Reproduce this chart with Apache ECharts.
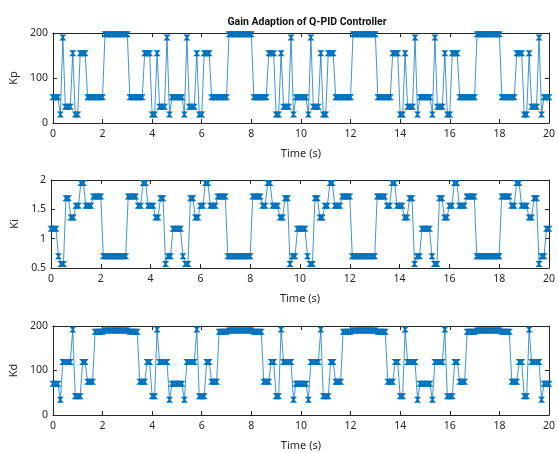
<!DOCTYPE html>
<html><head><meta charset="utf-8">
<script src="https://cdn.jsdelivr.net/npm/echarts@6/dist/echarts.min.js"></script>
<style>html,body{margin:0;padding:0;background:#fff}#c{width:558px;height:453px}</style>
</head><body><div id="c"></div>
<script>
// sample period of the recorded gains (s)
const dt = 0.1;
const xTicks = [0, 2, 4, 6, 8, 10, 12, 14, 16, 18, 20];
const kpTicks = [0, 100, 200];
const kiTicks = [0.5, 1, 1.5, 2];
const kdTicks = [0, 100, 200];

const kpValues = [
 57,57,57,19,190,36,36,36,155,19,19,155,155,155,57,57,57,57,57,57,57,197,197,197,197,197,197,197,197,197,197,57,57,57,57,57,57,155,155,155,19,19,155,36,36,36,190,19,57,57,
 57,57,57,19,190,36,36,36,155,19,19,155,155,155,57,57,57,57,57,57,57,197,197,197,197,197,197,197,197,197,197,57,57,57,57,57,57,155,155,155,19,19,155,36,36,36,190,19,57,57,
 57,57,57,19,190,36,36,36,155,19,19,155,155,155,57,57,57,57,57,57,57,197,197,197,197,197,197,197,197,197,197,57,57,57,57,57,57,155,155,155,19,19,155,36,36,36,190,19,57,57,
 57,57,57,19,190,36,36,36,155,19,19,155,155,155,57,57,57,57,57,57,57,197,197,197,197,197,197,197,197,197,197,57,57,57,57,57,57,155,155,155,19,19,155,36,36,36,190,19,57,57,
 57
];
const kiValues = [
 1.17,1.17,1.17,0.70,0.57,0.57,1.69,1.69,1.36,1.36,1.56,1.56,1.95,1.95,1.56,1.56,1.56,1.72,1.72,1.72,1.72,0.70,0.70,0.70,0.70,0.70,0.70,0.70,0.70,0.70,0.70,1.72,1.72,1.72,1.72,1.56,1.56,1.95,1.95,1.56,1.56,1.56,1.36,1.36,1.69,1.69,0.57,0.70,0.70,1.17,
 1.17,1.17,1.17,0.70,0.57,0.57,1.69,1.69,1.36,1.36,1.56,1.56,1.95,1.95,1.56,1.56,1.56,1.72,1.72,1.72,1.72,0.70,0.70,0.70,0.70,0.70,0.70,0.70,0.70,0.70,0.70,1.72,1.72,1.72,1.72,1.56,1.56,1.95,1.95,1.56,1.56,1.56,1.36,1.36,1.69,1.69,0.57,0.70,0.70,1.17,
 1.17,1.17,1.17,0.70,0.57,0.57,1.69,1.69,1.36,1.36,1.56,1.56,1.95,1.95,1.56,1.56,1.56,1.72,1.72,1.72,1.72,0.70,0.70,0.70,0.70,0.70,0.70,0.70,0.70,0.70,0.70,1.72,1.72,1.72,1.72,1.56,1.56,1.95,1.95,1.56,1.56,1.56,1.36,1.36,1.69,1.69,0.57,0.70,0.70,1.17,
 1.17,1.17,1.17,0.70,0.57,0.57,1.69,1.69,1.36,1.36,1.56,1.56,1.95,1.95,1.56,1.56,1.56,1.72,1.72,1.72,1.72,0.70,0.70,0.70,0.70,0.70,0.70,0.70,0.70,0.70,0.70,1.72,1.72,1.72,1.72,1.56,1.56,1.95,1.95,1.56,1.56,1.56,1.36,1.36,1.69,1.69,0.57,0.70,0.70,1.17,
 1.17
];
const kdValues = [
 70,70,70,34,119,119,119,119,192,42,42,42,119,119,75,75,75,187,187,187,187,190,190,190,190,190,190,190,190,190,190,187,187,187,187,75,75,75,119,119,42,42,192,119,119,119,119,34,70,70,
 70,70,70,34,119,119,119,119,192,42,42,42,119,119,75,75,75,187,187,187,187,190,190,190,190,190,190,190,190,190,190,187,187,187,187,75,75,75,119,119,42,42,192,119,119,119,119,34,70,70,
 70,70,70,34,119,119,119,119,192,42,42,42,119,119,75,75,75,187,187,187,187,190,190,190,190,190,190,190,190,190,190,187,187,187,187,75,75,75,119,119,42,42,192,119,119,119,119,34,70,70,
 70,70,70,34,119,119,119,119,192,42,42,42,119,119,75,75,75,187,187,187,187,190,190,190,190,190,190,190,190,190,190,187,187,187,187,75,75,75,119,119,42,42,192,119,119,119,119,34,70,70,
 70
];

const FONT = 'Noto Sans';
const AX = '#262626';
const LINE = '#0072BD';
const grids = [
  { left: 51, right: 6, top: 33, height: 90 },
  { left: 51, right: 6, top: 180, height: 88 },
  { left: 51, right: 6, top: 326, height: 89 }
];
const yDefs = [
  { name: 'Kp', ticks: kpTicks, data: kpValues },
  { name: 'Ki', ticks: kiTicks, data: kiValues },
  { name: 'Kd', ticks: kdTicks, data: kdValues }
];
const xAxes = [], yAxes = [], series = [];
yDefs.forEach((d, g) => {
  const common = {
    gridIndex: g, type: 'value',
    axisLine: { show: true, onZero: false, lineStyle: { color: AX, width: 1 } },
    axisTick: { show: true, inside: true, length: 4, lineStyle: { color: AX, width: 1 } },
    splitLine: { show: false }
  };
  const xc = Object.assign({}, common, { min: xTicks[0], max: xTicks[xTicks.length - 1], interval: xTicks[1] - xTicks[0] });
  xAxes.push(Object.assign({}, xc, {
    position: 'bottom', name: 'Time (s)', nameLocation: 'middle', nameGap: 25,
    nameTextStyle: { color: AX, fontSize: 11, fontFamily: FONT },
    axisLabel: { color: AX, fontSize: 10.5, fontFamily: FONT, margin: 6 }
  }));
  xAxes.push(Object.assign({}, xc, { position: 'top', axisLabel: { show: false } }));
  const t = d.ticks;
  const yc = Object.assign({}, common, { min: t[0], max: t[t.length - 1], interval: t[1] - t[0] });
  yAxes.push(Object.assign({}, yc, {
    position: 'left', name: d.name, nameLocation: 'middle', nameGap: 27, nameRotate: 90,
    nameTextStyle: { color: AX, fontSize: 11, fontFamily: FONT },
    axisLabel: { color: AX, fontSize: 10.5, fontFamily: FONT, margin: 5 }
  }));
  yAxes.push(Object.assign({}, yc, { position: 'right', axisLabel: { show: false } }));
  series.push({
    type: 'line', xAxisIndex: 2 * g, yAxisIndex: 2 * g,
    data: d.data.map((v, i) => [i * dt, v]),
    symbol: 'path://M0,0L10,0L6.2,5L10,10L0,10L3.8,5Z', symbolSize: [7, 6],
    showSymbol: true, showAllSymbol: true, clip: false,
    itemStyle: { color: LINE },
    lineStyle: { color: LINE, width: 1, opacity: 0.75 },
    emphasis: { disabled: true }
  });
});

const chart = echarts.init(document.getElementById('c'), null, { renderer: 'canvas' });
chart.setOption({
  animation: false,
  backgroundColor: '#ffffff',
  title: {
    text: 'Gain Adaption of Q-PID Controller', left: 302, top: 12, textAlign: 'center',
    textStyle: { color: '#111', fontSize: 10.5, fontWeight: 'bold', fontFamily: 'Roboto' }
  },
  grid: grids,
  xAxis: xAxes,
  yAxis: yAxes,
  series: series
});
</script></body></html>
